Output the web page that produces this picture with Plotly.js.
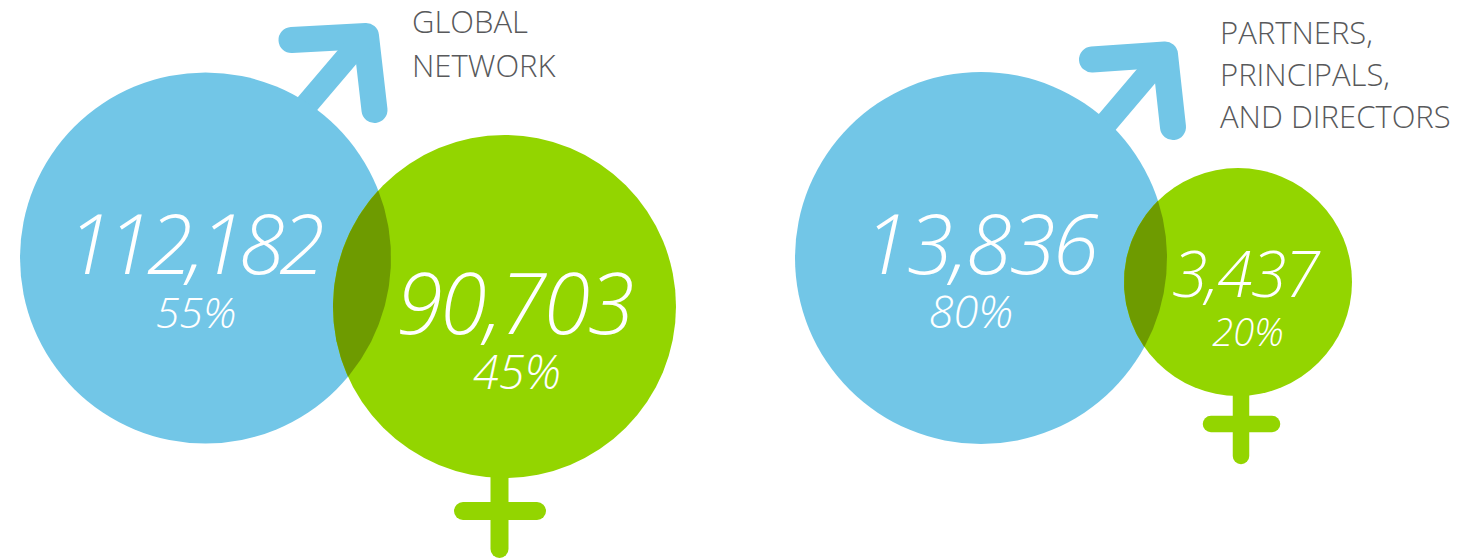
<!DOCTYPE html>
<html>
<head>
<meta charset="utf-8">
<script src="https://cdn.plot.ly/plotly-3.0.1.min.js"></script>
<style>
html,body{margin:0;padding:0;background:#fff;overflow:hidden}
#chart{width:1465px;height:560px}
.scatterlayer .js-line{stroke-linecap:round;stroke-linejoin:round}
.scatterlayer .trace:nth-last-child(3) text{letter-spacing:-0.026em}
.scatterlayer .trace:nth-last-child(3) .textpoint:first-child text{letter-spacing:-0.067em}
</style>
</head>
<body>
<div id="chart"></div>
<script>
// Headcounts and shares
const valueLabels = ["112,182", "90,703", "13,836", "3,437"];
const shareLabels = ["55%", "45%", "80%", "20%"];
const valueX = [193, 514, 980, 1245];
const valueY = [253, 313, 253, 281];
const shareX = [196, 517, 971, 1248];
const shareY = [317, 377, 317, 336];
const valueSizes = [83, 84, 83, 64];
const shareSizes = [43, 47, 45, 38];

// Circles
const circleX = [205.5, 504.5, 981, 1238];
const circleY = [258, 306.5, 258, 282];
const circleD = [371, 343, 372, 228];
const circleColors = ["#72c6e7", "#93d500", "#72c6e7", "#93d500"];

// Male arrows
const arrowLeftX = [291.5, 366, 374.5];
const arrowLeftY = [40, 36, 110];
const shaftLeftX = [285, 365.5];
const shaftLeftY = [130, 35.5];
const arrowRightX = [1092, 1165, 1173];
const arrowRightY = [59.5, 54.5, 127];
const shaftRightX = [1080, 1164.5];
const shaftRightY = [154, 54.5];

// Female crosses
const stemLeftX = [499.5, 499.5];
const stemLeftY = [470, 549];
const barLeftX = [463, 537];
const barLeftY = [511, 511];
const stemRightX = [1241, 1241];
const stemRightY = [390, 456];
const barRightX = [1211, 1272];
const barRightY = [424, 424];

// Titles
const titleLines = ["GLOBAL", "NETWORK", "PARTNERS,", "PRINCIPALS,", "AND DIRECTORS"];
const titleX = [412, 412, 1220, 1220, 1220];
const titleY = [25, 69, 36, 78, 120];

const BLUE = "#72c6e7", GREEN = "#93d500", OVERLAP = "#6e9b00";
const LIGHT = "Open Sans";

function line(x, y, color, width) {
  return {x, y, mode: "lines", line: {color, width, shape: "linear"}, hoverinfo: "skip"};
}

// The overlap of two circles, traced along both arcs
function lens(i, j) {
  const x1 = circleX[i], y1 = circleY[i], r1 = circleD[i] / 2;
  const x2 = circleX[j], y2 = circleY[j], r2 = circleD[j] / 2;
  const d = Math.hypot(x2 - x1, y2 - y1);
  const base = Math.atan2(y2 - y1, x2 - x1);
  const a1 = Math.acos((d * d + r1 * r1 - r2 * r2) / (2 * d * r1));
  const a2 = Math.acos((d * d + r2 * r2 - r1 * r1) / (2 * d * r2));
  const xs = [], ys = [];
  const n = 80;
  for (let k = 0; k <= n; k++) {
    const t = base - a1 + 2 * a1 * k / n;
    xs.push(x1 + r1 * Math.cos(t)); ys.push(y1 + r1 * Math.sin(t));
  }
  for (let k = 0; k <= n; k++) {
    const t = base + Math.PI - a2 + 2 * a2 * k / n;
    xs.push(x2 + r2 * Math.cos(t)); ys.push(y2 + r2 * Math.sin(t));
  }
  return {x: xs, y: ys, mode: "lines", fill: "toself", fillcolor: OVERLAP,
          line: {width: 0, color: OVERLAP}, hoverinfo: "skip"};
}

function italicText(x, y, text, sizes) {
  return {x, y, text, mode: "text", textposition: "middle center",
          textfont: {family: LIGHT, size: sizes, color: "#ffffff", style: "italic", weight: 300},
          hoverinfo: "skip"};
}

const traces = [
  line(arrowLeftX, arrowLeftY, BLUE, 26),
  line(shaftLeftX, shaftLeftY, BLUE, 23),
  line(arrowRightX, arrowRightY, BLUE, 26),
  line(shaftRightX, shaftRightY, BLUE, 23),
  line(stemLeftX, stemLeftY, GREEN, 18),
  line(barLeftX, barLeftY, GREEN, 18),
  line(stemRightX, stemRightY, GREEN, 16.5),
  line(barRightX, barRightY, GREEN, 16.5),
  {x: circleX, y: circleY, mode: "markers", hoverinfo: "skip",
   marker: {symbol: "circle", size: circleD, sizemode: "diameter", color: circleColors, line: {width: 0}, opacity: 1}},
  lens(0, 1),
  lens(2, 3),
  italicText(valueX, valueY, valueLabels, valueSizes),
  italicText(shareX, shareY, shareLabels, shareSizes),
  {x: titleX, y: titleY, text: titleLines, mode: "text", textposition: "middle right",
   textfont: {family: LIGHT, size: 31, color: "#58595b", weight: 300}, hoverinfo: "skip"}
];

const layout = {
  width: 1465, height: 560,
  margin: {l: 0, r: 0, t: 0, b: 0},
  paper_bgcolor: "#ffffff", plot_bgcolor: "#ffffff",
  showlegend: false,
  xaxis: {range: [0, 1465], visible: false, fixedrange: true},
  yaxis: {range: [560, 0], visible: false, fixedrange: true}
};

Plotly.newPlot("chart", traces, layout, {displayModeBar: false, staticPlot: true});
</script>
</body>
</html>
